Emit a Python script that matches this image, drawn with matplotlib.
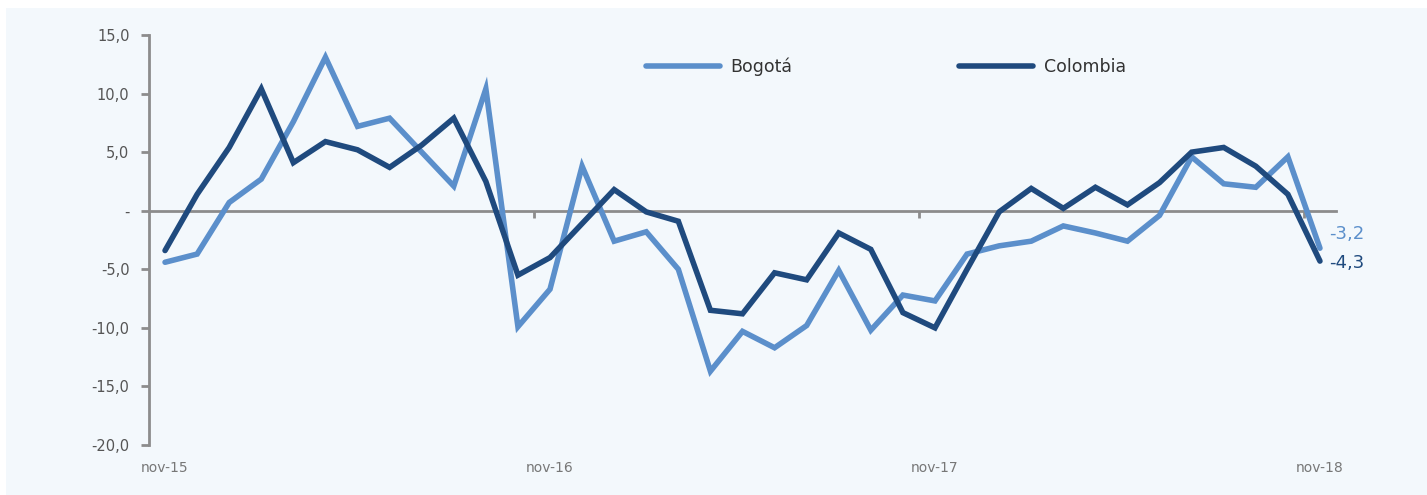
import numpy as np
import matplotlib.pyplot as plt
from matplotlib.patches import Rectangle
from matplotlib.ticker import FixedLocator, FuncFormatter

plt.rcParams['font.family'] = ['DejaVu Sans']

# monthly series nov-15 .. nov-18 (37 points)
bogota = [-4.4, -3.7, 0.7, 2.7, 7.6, 13.1, 7.2, 7.9, 5.0, 2.1, 10.4, -9.9,
          -6.7, 3.8, -2.6, -1.8, -5.0, -13.7, -10.3, -11.7, -9.8, -5.1, -10.2, -7.2,
          -7.7, -3.7, -3.0, -2.6, -1.3, -1.9, -2.6, -0.4, 4.6, 2.3, 2.0, 4.6, -3.2]
colombia = [-3.4, 1.4, 5.4, 10.4, 4.1, 5.9, 5.2, 3.7, 5.6, 7.9, 2.5, -5.5,
            -4.0, -1.1, 1.8, -0.1, -0.9, -8.5, -8.8, -5.3, -5.9, -1.9, -3.3, -8.7,
            -10.0, -5.0, -0.1, 1.9, 0.2, 2.0, 0.5, 2.4, 5.0, 5.4, 3.8, 1.4, -4.3]
x_labels = ['nov-15', 'nov-16', 'nov-17', 'nov-18']
label_pos = [0, 12, 24, 36]

c_bog = '#5b8fcb'
c_col = '#1f4a7e'
grey = '#8c8c8c'
txt = '#555555'

fig = plt.figure(figsize=(14.27, 4.95), dpi=100)
fig.patches.append(Rectangle((6 / 1427, 0), 1, 1 - 8 / 495, transform=fig.transFigure,
                             facecolor='#f3f8fc', edgecolor='none', zorder=-10))
ax = fig.add_axes([149 / 1427, 1 - 445 / 495, (1336 - 149) / 1427, (445 - 35) / 495])
ax.set_facecolor('none')

x = np.arange(len(bogota))
ax.plot(x, bogota, color=c_bog, lw=4, solid_capstyle='round', solid_joinstyle='miter', label='Bogotá', zorder=3)
ax.plot(x, colombia, color=c_col, lw=4, solid_capstyle='round', solid_joinstyle='miter', label='Colombia', zorder=4)

ax.set_xlim(-0.5, len(bogota) - 0.5)
ax.set_ylim(-20, 15)

for s in ['top', 'right']:
    ax.spines[s].set_visible(False)
ax.spines['left'].set_color(grey)
ax.spines['left'].set_linewidth(2)
ax.spines['bottom'].set_position(('data', 0))
ax.spines['bottom'].set_color(grey)
ax.spines['bottom'].set_linewidth(2)

ax.set_yticks(np.arange(-20, 16, 5))
ax.yaxis.set_major_formatter(FuncFormatter(lambda v, p: '-' if abs(v) < 1e-9 else ('%.1f' % v).replace('.', ',')))
ax.tick_params(axis='y', length=6, width=2, color=grey, labelsize=10.5, labelcolor=txt, pad=8)

# ticks between years sit on the zero line
ax.xaxis.set_major_locator(FixedLocator([11.5, 23.5, 35.5]))
ax.tick_params(axis='x', length=5, width=2, color=grey, labelbottom=False)

for p, lab in zip(label_pos, x_labels):
    ax.text(p, -21.4, lab, ha='center', va='top', fontsize=10, color='#777777')

# end-of-series value labels
ax.text(len(bogota) - 1 + 0.3, bogota[-1] + 1.2, ('%.1f' % bogota[-1]).replace('.', ','),
        color=c_bog, fontsize=13, va='center', ha='left')
ax.text(len(colombia) - 1 + 0.3, colombia[-1] - 0.15, ('%.1f' % colombia[-1]).replace('.', ','),
        color=c_col, fontsize=13, va='center', ha='left')

leg = fig.legend(loc='center left', bbox_to_anchor=(646 / 1427, 1 - 67 / 495), ncol=2,
                 frameon=False, fontsize=12.5, handlelength=4.25, handletextpad=0.63,
                 columnspacing=9.6, borderpad=0, borderaxespad=0)
for t in leg.get_texts():
    t.set_color('#333333')
for h in leg.get_lines():
    h.set_solid_capstyle('round')

fig.savefig('out.png', dpi=100)
